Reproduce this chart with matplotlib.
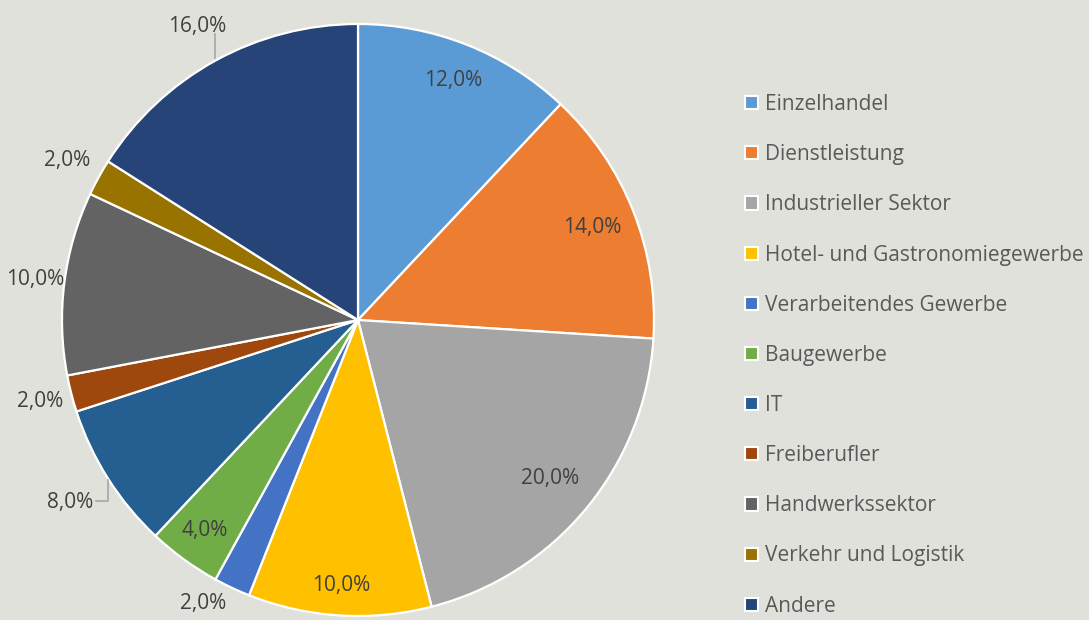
import numpy as np
import matplotlib.pyplot as plt
from matplotlib.lines import Line2D

plt.rcParams["font.family"] = ["Open Sans", "DejaVu Sans"]

# ---- data ----
sectors = ["Einzelhandel", "Dienstleistung", "Industrieller Sektor",
           "Hotel- und Gastronomiegewerbe", "Verarbeitendes Gewerbe",
           "Baugewerbe", "IT", "Freiberufler", "Handwerkssektor",
           "Verkehr und Logistik", "Andere"]
shares = [12.0, 14.0, 20.0, 10.0, 2.0, 4.0, 8.0, 2.0, 10.0, 2.0, 16.0]

# ---- style ----
colors = ["#5B9BD5", "#ED7D31", "#A5A5A5", "#FFC000", "#4472C4", "#70AD47",
          "#255E91", "#9E480E", "#636363", "#997300", "#264478"]
label_r = [0.87, 0.85, 0.84, 0.90, 1.09, 0.88, 1.15, 1.11, 1.10, 1.12, 1.13]
label_da = [0, 0, 0, 0, -3.5, 0, 0, 0, 0, 0, 0]  # small angular nudges (deg)
BG = "#E1E1DC"
W, H, DPI = 1089, 620, 100
CX, CY, R = 358, 320, 296  # pie centre / radius in pixels

fig = plt.figure(figsize=(W / DPI, H / DPI), dpi=DPI, facecolor=BG)
ax = fig.add_axes([0, 0, 1, 1])
ax.set_facecolor(BG)

wedges, _ = ax.pie(shares, colors=colors, startangle=90, counterclock=False,
                   radius=1, wedgeprops=dict(edgecolor="white", linewidth=1.6))
ax.set_xlim(-CX / R, (W - CX) / R)
ax.set_ylim(-(H - CY) / R, CY / R)
ax.set_aspect("equal")
ax.set_axis_off()

# percentage labels
for w, v, rf, da in zip(wedges, shares, label_r, label_da):
    ang = np.deg2rad((w.theta1 + w.theta2) / 2 + da)
    x, y = rf * np.cos(ang), rf * np.sin(ang)
    ax.text(x, y, f"{v:.1f}".replace(".", ",") + "%", ha="center", va="center",
            fontsize=15, color="#404040")

# leader lines (IT and Andere)
for idx in (6, 10):
    w = wedges[idx]
    ang = np.deg2rad((w.theta1 + w.theta2) / 2)
    ex, ey = np.cos(ang), np.sin(ang)
    if idx == 10:
        ax.add_line(Line2D([ex, ex], [ey + 0.01, ey + 0.09], color="#A6A6A6", lw=1.2))
    else:
        yb = ey - 0.075
        ax.add_line(Line2D([ex, ex, ex - 0.04], [ey - 0.005, yb, yb], color="#A6A6A6", lw=1.2))

leg = fig.legend(wedges, sectors, loc="upper left",
                 bbox_to_anchor=(745 / W, 1 - 94 / H), frameon=False,
                 fontsize=15, labelcolor="#595959", handlelength=0.6,
                 handleheight=0.6, handletextpad=0.35, labelspacing=1.4,
                 borderpad=0, borderaxespad=0)
for h in leg.legend_handles:
    h.set_edgecolor("white")
    h.set_linewidth(1.5)

fig.savefig("out.png", dpi=DPI, facecolor=BG)
